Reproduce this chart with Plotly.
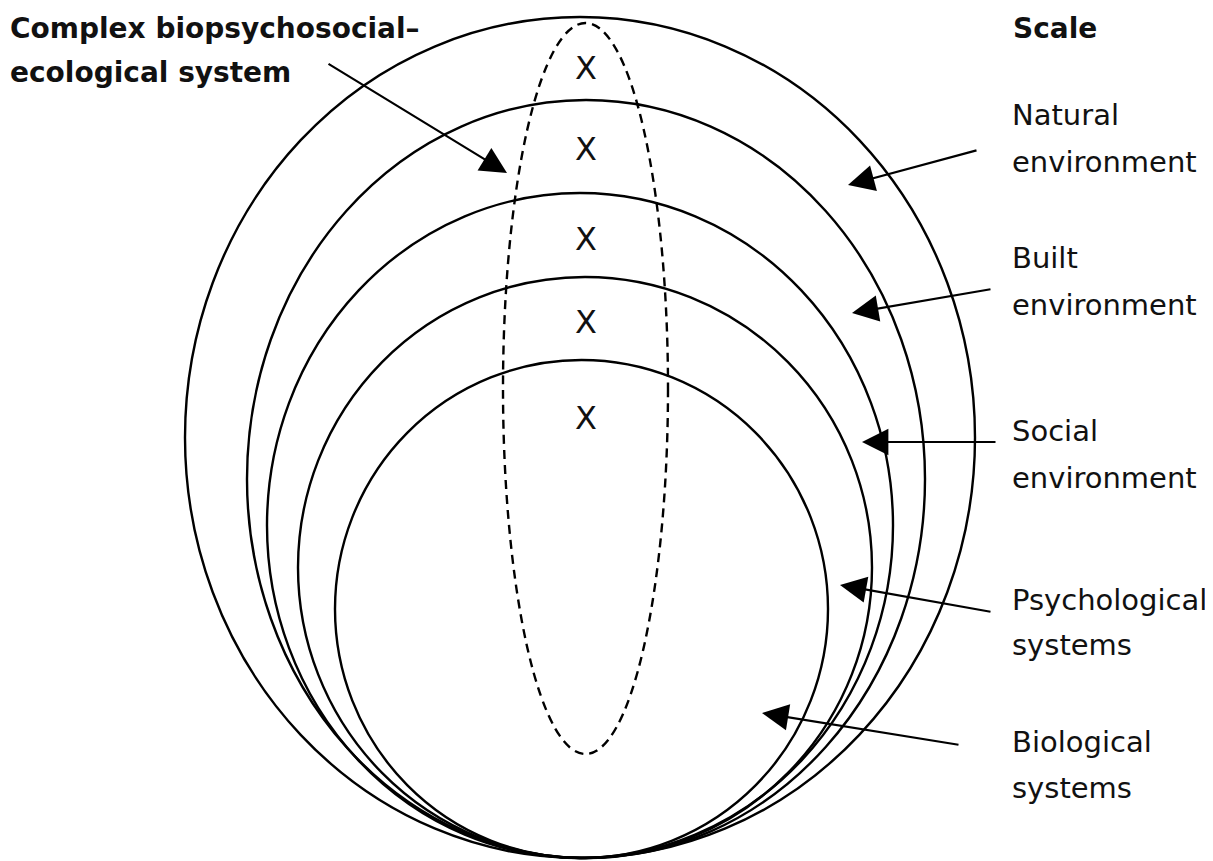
import plotly.graph_objects as go

W, H = 1213, 861
PAGE_MARGIN = 8  # default body margin of the html page

# Nested scale ellipses (bounding boxes, px-like data units, y downward)
ring_names = ["Natural environment", "Built environment", "Social environment",
              "Psychological systems", "Biological systems"]
ring_left = [185, 247, 267, 298, 335]
ring_right = [975, 925, 893, 872, 828]
ring_top = [17, 100, 193, 277, 360]
ring_bottom = [858, 858, 858, 858, 858]

# Dashed "complex system" ellipse
dash_left, dash_right, dash_top, dash_bottom = 503, 668, 23, 754

# X marks
x_marks_x = [586, 586, 586, 586, 586]
x_marks_y = [68, 149, 239, 322, 418]

# Right-hand scale labels (one entry per text line)
scale_title = "Scale"
scale_title_y = 28
scale_lines = ["Natural", "environment", "Built", "environment", "Social", "environment",
               "Psychological", "systems", "Biological", "systems"]
scale_lines_y = [115, 162, 258, 305, 431, 478, 600, 645, 742, 788]

# Arrows: tail -> tip
arrow_tail_x = [978, 992, 997, 992, 960]
arrow_tail_y = [150, 289, 442, 612, 745]
arrow_tip_x = [848, 852, 862, 840, 762]
arrow_tip_y = [185, 313, 442, 585, 713]

complex_lines = ["Complex biopsychosocial–", "ecological system"]
complex_lines_y = [28, 72]
complex_tail = (327, 63)
complex_tip = (507, 173)

FONT = "DejaVu Sans"

fig = go.Figure()
fig.add_trace(go.Scatter(x=[PAGE_MARGIN, W], y=[PAGE_MARGIN, H], mode="markers",
                         marker=dict(opacity=0), hoverinfo="skip", showlegend=False))

shapes = []
for l, r, t, b in zip(ring_left, ring_right, ring_top, ring_bottom):
    shapes.append(dict(type="circle", xref="x", yref="y", x0=l, x1=r, y0=t, y1=b,
                       line=dict(color="black", width=2.4)))
shapes.append(dict(type="circle", xref="x", yref="y", x0=dash_left, x1=dash_right,
                   y0=dash_top, y1=dash_bottom,
                   line=dict(color="black", width=2.4, dash="9px,6px")))

ann = []
for xx, yy in zip(x_marks_x, x_marks_y):
    ann.append(dict(x=xx, y=yy, xref="x", yref="y", text="X", showarrow=False,
                    font=dict(family=FONT, size=32, color="#111"),
                    xanchor="center", yanchor="middle"))

ann.append(dict(x=1011, y=scale_title_y, xref="x", yref="y", text="<b>" + scale_title + "</b>",
                showarrow=False, font=dict(family=FONT, size=28, color="#111"),
                xanchor="left", yanchor="middle"))
for lab, yy in zip(scale_lines, scale_lines_y):
    ann.append(dict(x=1010, y=yy, xref="x", yref="y", text=lab, showarrow=False,
                    font=dict(family=FONT, size=29, color="#111"),
                    xanchor="left", yanchor="middle"))

for lab, yy in zip(complex_lines, complex_lines_y):
    ann.append(dict(x=8, y=yy, xref="x", yref="y", text="<b>" + lab + "</b>",
                    showarrow=False, font=dict(family=FONT, size=28, color="#111"),
                    xanchor="left", yanchor="middle"))

arrows = list(zip(arrow_tail_x, arrow_tail_y, arrow_tip_x, arrow_tip_y))
arrows.append((complex_tail[0], complex_tail[1], complex_tip[0], complex_tip[1]))
for tx, ty, hx, hy in arrows:
    ann.append(dict(x=hx, y=hy, ax=tx, ay=ty, xref="x", yref="y", axref="x", ayref="y",
                    text="", showarrow=True, arrowhead=2, arrowsize=2.4, arrowwidth=2.2,
                    arrowcolor="black", standoff=0, startstandoff=0))

fig.update_layout(
    width=W - PAGE_MARGIN, height=H - PAGE_MARGIN, margin=dict(l=0, r=0, t=0, b=0),
    paper_bgcolor="white", plot_bgcolor="white",
    xaxis=dict(range=[PAGE_MARGIN, W], visible=False, fixedrange=True),
    yaxis=dict(range=[H, PAGE_MARGIN], visible=False, fixedrange=True),
    shapes=shapes, annotations=ann, showlegend=False,
)
fig.write_html("out.html")
